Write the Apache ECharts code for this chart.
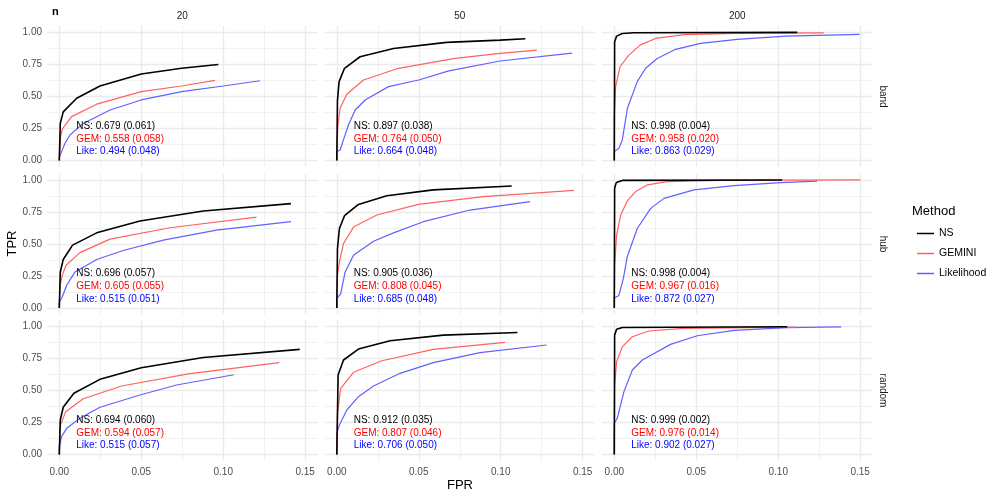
<!DOCTYPE html>
<html>
<head>
<meta charset="utf-8">
<script src="https://cdn.jsdelivr.net/npm/echarts@6/dist/echarts.min.js"></script>
<style>
  html, body { margin: 0; padding: 0; background: #fff; }
  #chart { width: 997px; height: 498px; }
</style>
</head>
<body>
<div id="chart"></div>
<script>
// facet labels
const rowNames = ['band', 'hub', 'random'];
const colNames = ['20', '50', '200'];
const methods = ['NS', 'GEMINI', 'Likelihood'];
const shortNames = ['NS', 'GEM', 'Like'];

const xTicks = [0, 0.05, 0.10, 0.15];
const xMinor = [0.025, 0.075, 0.125];
const yTicks = [0, 0.25, 0.50, 0.75, 1.00];
const yMinor = [0.125, 0.375, 0.625, 0.875];

// ROC curves [FPR, TPR]
const nsBand20 = [[0,0],[0.0006,0.29],[0.0024,0.38],[0.0106,0.486],[0.0248,0.582],[0.05,0.675],[0.0746,0.72],[0.097,0.75]];
const gemBand20 = [[0,0],[0.0008,0.19],[0.002,0.25],[0.0075,0.343],[0.0228,0.44],[0.05,0.538],[0.0746,0.582],[0.095,0.626]];
const likeBand20 = [[0,0],[0,0.03],[0.0014,0.07],[0.0035,0.135],[0.0065,0.2],[0.0146,0.29],[0.031,0.395],[0.05,0.473],[0.0746,0.538],[0.1,0.582],[0.1224,0.623]];
const nsBand50 = [[0,0],[0.0004,0.47],[0.0014,0.616],[0.0047,0.72],[0.0142,0.81],[0.0346,0.875],[0.067,0.922],[0.0996,0.94],[0.115,0.95]];
const gemBand50 = [[0,0],[0.0006,0.265],[0.002,0.408],[0.0061,0.517],[0.0163,0.629],[0.0376,0.72],[0.0722,0.797],[0.0996,0.836],[0.122,0.862]];
const likeBand50 = [[0,0],[0,0.07],[0.002,0.083],[0.004,0.16],[0.0071,0.278],[0.0112,0.395],[0.0173,0.473],[0.0315,0.577],[0.05,0.629],[0.0683,0.70],[0.0996,0.777],[0.1435,0.839]];
const nsBand200 = [[0,0],[0.0002,0.927],[0.0014,0.971],[0.0049,0.992],[0.012,0.997],[0.1116,1.0]];
const gemBand200 = [[0,0],[0,0.343],[0.0008,0.577],[0.0035,0.732],[0.0089,0.823],[0.0157,0.901],[0.0252,0.953],[0.0425,0.982],[0.073,0.992],[0.1278,0.997]];
const likeBand200 = [[0,0],[0,0.07],[0.0028,0.096],[0.0049,0.161],[0.008,0.408],[0.014,0.616],[0.0191,0.72],[0.0262,0.797],[0.0374,0.868],[0.0526,0.914],[0.075,0.945],[0.1049,0.971],[0.1496,0.984]];

const nsHub20 = [[0,0],[0.0006,0.282],[0.0024,0.379],[0.0081,0.491],[0.0228,0.587],[0.0492,0.679],[0.0878,0.757],[0.1413,0.815]];
const gemHub20 = [[0,0],[0.0004,0.178],[0.0018,0.256],[0.0041,0.334],[0.0126,0.433],[0.0309,0.538],[0.0675,0.627],[0.1203,0.71]];
const likeHub20 = [[0,0],[0,0.047],[0.0018,0.086],[0.0045,0.178],[0.0096,0.282],[0.0228,0.379],[0.039,0.449],[0.0634,0.53],[0.0959,0.608],[0.1413,0.674]];
const nsHub50 = [[0,0],[0.0004,0.465],[0.0016,0.621],[0.0047,0.721],[0.0132,0.809],[0.0305,0.877],[0.0589,0.922],[0.1067,0.953]];
const gemHub50 = [[0,0],[0.0004,0.256],[0.0016,0.36],[0.0041,0.504],[0.0102,0.632],[0.0244,0.726],[0.0498,0.809],[0.0894,0.869],[0.1447,0.919]];
const likeHub50 = [[0,0],[0,0.073],[0.0024,0.112],[0.0051,0.282],[0.0102,0.413],[0.0224,0.522],[0.0346,0.587],[0.0528,0.674],[0.0813,0.765],[0.1179,0.83]];
const nsHub200 = [[0,0],[0.0002,0.935],[0.0012,0.979],[0.0049,0.996],[0.1024,0.999]];
const gemHub200 = [[0,0],[0.0002,0.334],[0.0014,0.569],[0.0039,0.726],[0.0079,0.836],[0.013,0.909],[0.0201,0.961],[0.0323,0.987],[0.0628,0.997],[0.1502,1.0]];
const likeHub200 = [[0,0],[0,0.078],[0.0028,0.099],[0.0055,0.23],[0.0079,0.4],[0.014,0.621],[0.0222,0.778],[0.0303,0.856],[0.0486,0.922],[0.073,0.956],[0.1014,0.979],[0.1238,0.99]];

const nsRandom20 = [[0,0],[0.0006,0.27],[0.0024,0.369],[0.0089,0.478],[0.0248,0.587],[0.05,0.678],[0.0878,0.758],[0.1467,0.821]];
const gemRandom20 = [[0,0],[0.0004,0.218],[0.0039,0.335],[0.0146,0.436],[0.038,0.535],[0.0787,0.629],[0.1341,0.717]];
const likeRandom20 = [[0,0],[0,0.062],[0.0014,0.14],[0.0045,0.205],[0.0126,0.283],[0.0248,0.369],[0.0492,0.465],[0.0715,0.543],[0.1065,0.623]];
const nsRandom50 = [[0,0],[0.0008,0.621],[0.0041,0.738],[0.0132,0.823],[0.0325,0.888],[0.065,0.932],[0.1102,0.953]];
const gemRandom50 = [[0,0],[0.0004,0.322],[0.0024,0.517],[0.0102,0.642],[0.0274,0.732],[0.0589,0.821],[0.1026,0.875]];
const likeRandom50 = [[0,0],[0,0.166],[0.0016,0.231],[0.0061,0.348],[0.0132,0.452],[0.0224,0.535],[0.0386,0.634],[0.0589,0.717],[0.0874,0.795],[0.128,0.855]];
const nsRandom200 = [[0,0],[0.0002,0.932],[0.0014,0.977],[0.0049,0.992],[0.1055,0.997]];
const gemRandom200 = [[0,0],[0.0002,0.543],[0.0014,0.725],[0.0049,0.842],[0.011,0.919],[0.0211,0.964],[0.0425,0.984],[0.1106,0.995]];
const likeRandom200 = [[0,0],[0,0.244],[0.0018,0.283],[0.0059,0.491],[0.011,0.66],[0.0171,0.738],[0.0343,0.86],[0.0506,0.927],[0.073,0.969],[0.1055,0.99],[0.1384,0.997]];

// AUC (sd) per panel, order NS / GEM / Like
const aucBand = [['0.679 (0.061)','0.558 (0.058)','0.494 (0.048)'], ['0.897 (0.038)','0.764 (0.050)','0.664 (0.048)'], ['0.998 (0.004)','0.958 (0.020)','0.863 (0.029)']];
const aucHub = [['0.696 (0.057)','0.605 (0.055)','0.515 (0.051)'], ['0.905 (0.036)','0.808 (0.045)','0.685 (0.048)'], ['0.998 (0.004)','0.967 (0.016)','0.872 (0.027)']];
const aucRandom = [['0.694 (0.060)','0.594 (0.057)','0.515 (0.057)'], ['0.912 (0.035)','0.807 (0.046)','0.706 (0.050)'], ['0.999 (0.002)','0.976 (0.014)','0.902 (0.027)']];

const labelX = 0.01;
const labelY = [0.27, 0.17, 0.07];

const curves = [
  [[nsBand20, gemBand20, likeBand20], [nsBand50, gemBand50, likeBand50], [nsBand200, gemBand200, likeBand200]],
  [[nsHub20, gemHub20, likeHub20], [nsHub50, gemHub50, likeHub50], [nsHub200, gemHub200, likeHub200]],
  [[nsRandom20, gemRandom20, likeRandom20], [nsRandom50, gemRandom50, likeRandom50], [nsRandom200, gemRandom200, likeRandom200]],
];
const aucs = [aucBand, aucHub, aucRandom];

// layout
const FONT = '"Liberation Sans", Arial, sans-serif';
const lefts = [47, 324.5, 602];
const tops = [26, 173.5, 320];
const PW = 270.5;
const PH = 141;
const lineColors = ['#000000', '#ff6161', '#6161ff'];
const textColors = ['#000000', '#ff0000', '#0000ff'];
const lineWidths = [1.6, 1.2, 1.2];
const GRID = '#ebebeb';

const chart = echarts.init(document.getElementById('chart'), null, { renderer: 'canvas' });

const grids = [], xAxes = [], yAxes = [], series = [], graphics = [];
const fmt = v => v.toFixed(2);

for (let r = 0; r < 3; r++) {
  for (let c = 0; c < 3; c++) {
    const gi = r * 3 + c;
    grids.push({ left: lefts[c], top: tops[r], width: PW, height: PH, containLabel: false, outerBoundsMode: 'none' });
    // major axes
    xAxes.push({
      type: 'value', gridIndex: gi, min: -0.0075, max: 0.1575,
      axisLine: { show: false },
      axisTick: { show: false, customValues: xTicks },
      axisLabel: { show: r === 2, customValues: xTicks, formatter: fmt, color: '#4d4d4d', fontSize: 10, fontFamily: FONT, margin: 6 },
      splitLine: { show: true, lineStyle: { color: GRID, width: 1.4 } },
    });
    yAxes.push({
      type: 'value', gridIndex: gi, min: -0.05, max: 1.05,
      axisLine: { show: false },
      axisTick: { show: false, customValues: yTicks },
      axisLabel: { show: c === 0, customValues: yTicks, formatter: fmt, color: '#4d4d4d', fontSize: 10, fontFamily: FONT, margin: 5 },
      splitLine: { show: true, lineStyle: { color: GRID, width: 1.4 } },
    });
    // minor grid axes
    xAxes.push({
      type: 'value', gridIndex: gi, min: -0.0075, max: 0.1575, position: 'top',
      axisLine: { show: false },
      axisTick: { show: false, customValues: xMinor },
      axisLabel: { show: false, customValues: xMinor },
      splitLine: { show: true, lineStyle: { color: GRID, width: 0.7 } },
    });
    yAxes.push({
      type: 'value', gridIndex: gi, min: -0.05, max: 1.05, position: 'right',
      axisLine: { show: false },
      axisTick: { show: false, customValues: yMinor },
      axisLabel: { show: false, customValues: yMinor },
      splitLine: { show: true, lineStyle: { color: GRID, width: 0.7 } },
    });

    for (let m = 2; m >= 0; m--) {
      series.push({
        name: methods[m],
        type: 'line',
        xAxisIndex: 2 * gi,
        yAxisIndex: 2 * gi,
        data: curves[r][c][m],
        symbol: 'none',
        color: lineColors[m],
        lineStyle: { color: lineColors[m], width: lineWidths[m] },
        z: 3 - m + 2,
        markPoint: {
          symbol: 'circle',
          symbolSize: 1,
          itemStyle: { color: 'rgba(0,0,0,0)' },
          label: {
            show: true, position: 'right', distance: 0,
            color: textColors[m], fontSize: 10, fontFamily: FONT,
            formatter: shortNames[m] + ': ' + aucs[r][c][m],
          },
          data: [{ coord: [labelX, labelY[m]] }],
        },
      });
    }
  }
}

// strip labels
colNames.forEach((t, c) => {
  graphics.push({ type: 'text', x: lefts[c] + PW / 2, y: 16.5,
    style: { text: t, fill: '#1a1a1a', font: '10px ' + FONT, textAlign: 'center', textVerticalAlign: 'middle' } });
});
rowNames.forEach((t, r) => {
  graphics.push({ type: 'text', x: lefts[2] + PW + 10, y: tops[r] + PH / 2, rotation: -Math.PI / 2,
    style: { text: t, fill: '#1a1a1a', font: '10px ' + FONT, textAlign: 'center', textVerticalAlign: 'middle' } });
});
graphics.push({ type: 'text', x: 52, y: 12, style: { text: 'n', fill: '#000', font: 'bold 11px ' + FONT, textAlign: 'left', textVerticalAlign: 'middle' } });
graphics.push({ type: 'text', x: 12, y: 243.5, rotation: Math.PI / 2,
  style: { text: 'TPR', fill: '#000', font: '13px ' + FONT, textAlign: 'center', textVerticalAlign: 'middle' } });
graphics.push({ type: 'text', x: 460, y: 485,
  style: { text: 'FPR', fill: '#000', font: '13px ' + FONT, textAlign: 'center', textVerticalAlign: 'middle' } });
graphics.push({ type: 'text', x: 912, y: 211,
  style: { text: 'Method', fill: '#000', font: '13px ' + FONT, textAlign: 'left', textVerticalAlign: 'middle' } });

chart.setOption({
  animation: false,
  backgroundColor: '#ffffff',
  grid: grids,
  xAxis: xAxes,
  yAxis: yAxes,
  series: series,
  graphic: graphics,
  legend: {
    orient: 'vertical',
    left: 912, top: 223,
    data: methods,
    icon: 'rect',
    itemWidth: 17, itemHeight: 1.5,
    itemGap: 9,
    textStyle: { color: '#000', fontSize: 10.5, fontFamily: FONT },
  },
});
</script>
</body>
</html>
